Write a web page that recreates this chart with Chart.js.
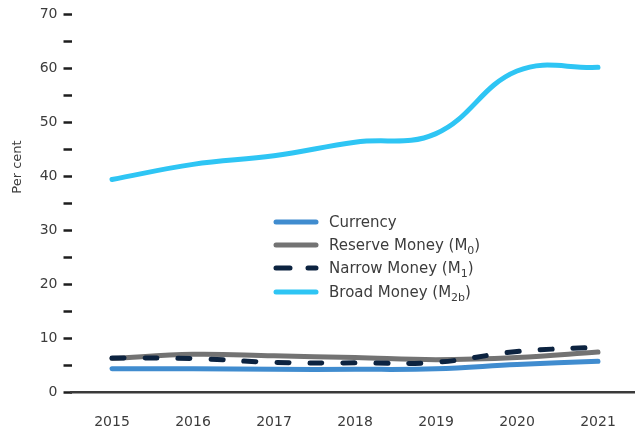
<!DOCTYPE html>
<html>
<head>
<meta charset="utf-8">
<script src="https://cdn.jsdelivr.net/npm/chart.js@4/dist/chart.umd.min.js"></script>
<style>
    body { margin: 0; background: #fff; overflow: hidden; }
    #wrap { position: relative; width: 640px; height: 434px; }
    #legend {
        position: absolute; left: 273px; top: 210px;
        font-family: "DejaVu Sans", sans-serif; font-size: 15px; color: #3c3c3c;
    }
    #legend .item { display: flex; align-items: center; height: 23.3px; white-space: nowrap; }
    #legend svg { width: 46px; height: 8px; margin-right: 10px; flex: none; }
    #legend sub { font-size: 11px; vertical-align: -4px; line-height: 0; }
</style>
</head>
<body>
<div id="wrap">
    <canvas id="chart"></canvas>
    <div id="legend"></div>
</div>
<script>
// values (per cent)
const years = ['2015', '2016', '2017', '2018', '2019', '2020', '2021'];
const currency = [4.3, 4.3, 4.2, 4.2, 4.3, 5.1, 5.7];
const reserveMoney = [6.2, 7.0, 6.7, 6.4, 6.0, 6.4, 7.4];
const narrowMoney = [6.3, 6.2, 5.5, 5.4, 5.5, 7.5, 8.3];
const broadMoney = [39.4, 42.2, 43.8, 46.3, 47.9, 59.5, 60.2];

const seriesNames = ['Currency', 'Reserve Money (M0)', 'Narrow Money (M1)', 'Broad Money (M2b)'];
const legendHtml = ['Currency', 'Reserve Money (M<sub>0</sub>)', 'Narrow Money (M<sub>1</sub>)', 'Broad Money (M<sub>2b</sub>)'];
const colors = ['#408ccf', '#737373', '#0c2340', '#2ec5f4'];

function lineSet(label, data, color, extra) {
    return Object.assign({
        label: label,
        data: data,
        borderColor: color,
        backgroundColor: color,
        borderWidth: 5,
        borderCapStyle: 'round',
        borderJoinStyle: 'round',
        pointRadius: 0,
        tension: 0.4,
        fill: false
    }, extra || {});
}

// rotated axis title, sits a little above the axis middle as in the source
const yTitle = {
    id: 'yTitle',
    afterDraw(chart) {
        const ctx = chart.ctx;
        ctx.save();
        ctx.translate(18, 167);
        ctx.rotate(-Math.PI / 2);
        ctx.font = '13px "DejaVu Sans", sans-serif';
        ctx.fillStyle = '#3c3c3c';
        ctx.textAlign = 'center';
        ctx.textBaseline = 'middle';
        ctx.fillText('Per cent', 0, 0);
        ctx.restore();
    }
};

const chart = new Chart(document.getElementById('chart'), {
    type: 'line',
    data: {
        labels: years,
        datasets: [
            lineSet(seriesNames[0], currency, colors[0], { order: 2 }),
            lineSet(seriesNames[1], reserveMoney, colors[1], { order: 1 }),
            lineSet(seriesNames[2], narrowMoney, colors[2], { order: 0, borderDash: [12, 21] }),
            lineSet(seriesNames[3], broadMoney, colors[3], { order: 0 })
        ]
    },
    options: {
        responsive: true,
        maintainAspectRatio: false,
        animation: false,
        devicePixelRatio: 1,
        layout: { padding: { top: 13, right: 1.5, left: 0, bottom: 0 } },
        plugins: {
            legend: { display: false },
            tooltip: { enabled: false }
        },
        scales: {
            x: {
                offset: true,
                grid: { display: false, drawTicks: false },
                border: { display: true, color: '#3a3a3a', width: 2.5 },
                ticks: {
                    color: '#3c3c3c',
                    padding: 22,
                    font: { family: '"DejaVu Sans", sans-serif', size: 14 }
                },
                afterFit(scale) { scale.height = 42; }
            },
            y: {
                min: 0,
                max: 70,
                border: { display: false },
                grid: {
                    drawOnChartArea: false,
                    drawTicks: true,
                    tickLength: 8,
                    tickWidth: 2.5,
                    tickColor: '#1e1e1e'
                },
                ticks: {
                    stepSize: 5,
                    padding: 6,
                    color: '#3c3c3c',
                    font: { family: '"DejaVu Sans", sans-serif', size: 14 },
                    callback: v => (v % 10 === 0 ? v : '')
                },
                afterFit(scale) { scale.width = 71.5; }
            }
        }
    },
    plugins: [yTitle]
});

// html legend so the subscripts stay real text
const legend = document.getElementById('legend');
chart.data.datasets.forEach((ds, i) => {
    const dash = ds.borderDash ? 'stroke-dasharray="14 18"' : '';
    const item = document.createElement('div');
    item.className = 'item';
    item.innerHTML = `
        <svg viewBox="0 0 46 8"><line x1="3" y1="4" x2="43" y2="4" stroke="${ds.borderColor}"
             stroke-width="5" stroke-linecap="round" ${dash}/></svg>
        <span>${legendHtml[i]}</span>`;
    legend.appendChild(item);
});
</script>
</body>
</html>
